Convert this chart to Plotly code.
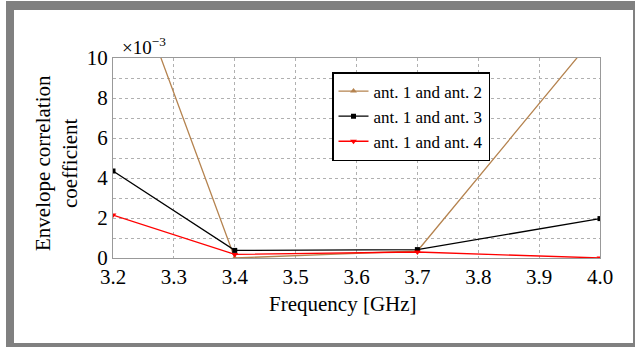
import plotly.graph_objects as go

freq = [3.2, 3.4, 3.7, 4.0]
ecc_12 = [16.5, 0.0, 0.35, 11.4]   # x 1e-3
ecc_13 = [4.35, 0.38, 0.42, 1.97]
ecc_14 = [2.15, 0.18, 0.3, 0.0]
series_names = ["ant. 1 and ant. 2", "ant. 1 and ant. 3", "ant. 1 and ant. 4"]
x_ticks = [3.2, 3.3, 3.4, 3.5, 3.6, 3.7, 3.8, 3.9, 4.0]
y_ticks = [0, 2, 4, 6, 8, 10]

W, H = 635, 347
L, R, T, B = 113, 600, 58, 258
PW, PH = R - L, B - T

def px(x):
    return (x - L) / PW

def py(y):
    return (B - y) / PH

FONT = "'Times New Roman', 'Liberation Serif', Times, serif"

fig = go.Figure()
styles = [
    ("#B5834F", "triangle-up", 6),
    ("#000000", "square", 5),
    ("#FF0000", "triangle-down", 6),
]
for vals, name, (col, sym, ms) in zip([ecc_12, ecc_13, ecc_14], series_names, styles):
    fig.add_trace(go.Scatter(
        x=freq, y=vals, name=name, mode="lines+markers",
        line=dict(color=col, width=1.3),
        marker=dict(symbol=sym, size=ms, color=col),
    ))

shapes = []
gray = "#808080"
for (x0, y0, x1, y1) in [(6, 1, 14, 347), (6, 1, 635, 10), (633, 1, 635, 347), (6, 343, 635, 347)]:
    shapes.append(dict(type="rect", xref="paper", yref="paper",
                       x0=px(x0), x1=px(x1), y0=py(y0), y1=py(y1),
                       fillcolor=gray, line=dict(width=0), layer="above"))

fig.update_layout(
    width=W, height=H,
    margin=dict(l=L, r=W - R, t=T, b=H - B),
    paper_bgcolor="white", plot_bgcolor="white",
    font=dict(family=FONT, color="black", size=21),
    showlegend=True,
    legend=dict(x=px(332), y=py(72), xanchor="left", yanchor="top",
                bordercolor="black", borderwidth=1.5, bgcolor="white",
                font=dict(size=17, family=FONT), tracegroupgap=0),
    shapes=shapes,
    xaxis=dict(range=[3.2, 4.0], tickvals=x_ticks, ticktext=[f"{v:.1f}" for v in x_ticks],
               showgrid=True, gridcolor="#b0b0b0", griddash="dot", gridwidth=1,
               showline=True, linecolor="#999999", linewidth=1, mirror=True,
               ticks="", tickfont=dict(size=21, family=FONT), zeroline=False),
    yaxis=dict(range=[0, 10], tickvals=y_ticks,
               showgrid=True, gridcolor="#b0b0b0", griddash="dot", gridwidth=1,
               minor=dict(dtick=1, showgrid=True, gridcolor="#b0b0b0", griddash="dot", gridwidth=1),
               showline=True, linecolor="#999999", linewidth=1, mirror=True,
               ticks="", tickfont=dict(size=21, family=FONT), zeroline=False),
    annotations=[
        dict(text="×10<sup>−3</sup>", xref="paper", yref="paper", x=px(120), y=py(46),
             xanchor="left", yanchor="middle", showarrow=False, font=dict(size=19, family=FONT)),
        dict(text="Frequency [GHz]", xref="paper", yref="paper", x=px(343), y=py(304),
             xanchor="center", yanchor="middle", showarrow=False, font=dict(size=21, family=FONT)),
        dict(text="Envelope correlation<br>coefficient", xref="paper", yref="paper",
             x=px(56), y=py(163), xanchor="center", yanchor="middle", textangle=-90,
             showarrow=False, font=dict(size=21, family=FONT)),
    ],
)

fig.write_html("out.html")
